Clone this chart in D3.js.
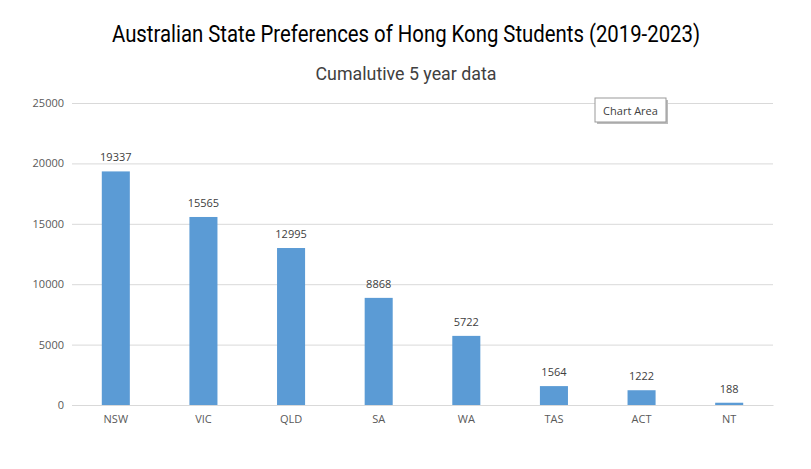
<!DOCTYPE html>
<html>
<head>
<meta charset="utf-8">
<script src="https://cdn.jsdelivr.net/npm/d3@7"></script>
<style>
  body { margin: 0; background: #fff; }
  svg { display: block; }
</style>
</head>
<body>
<div id="chart"></div>
<script>
(function() {
    const width = 811;
    const height = 469;
    const margin = { top: 103, right: 38, bottom: 64, left: 72 };

    // data
    const states = ["NSW", "VIC", "QLD", "SA", "WA", "TAS", "ACT", "NT"];
    const students = [19337, 15565, 12995, 8868, 5722, 1564, 1222, 188];
    const yTicks = [0, 5000, 10000, 15000, 20000, 25000];

    const titleText = "Australian State Preferences of Hong Kong Students (2019-2023)";
    const subtitleText = "Cumalutive 5 year data";

    const labelFont = "'Open Sans', 'Liberation Sans', sans-serif";
    const titleFont = "Roboto, 'Liberation Sans', sans-serif";

    const svg = d3.select("#chart").append("svg")
        .attr("width", width).attr("height", height);

    const innerW = width - margin.left - margin.right;
    const innerH = height - margin.top - margin.bottom;

    const x = d3.scaleBand().domain(states).range([0, innerW]).paddingInner(0.68).paddingOuter(0.34);
    const y = d3.scaleLinear().domain([0, 25000]).range([innerH, 0]);

    const g = svg.append("g").attr("transform", `translate(${margin.left},${margin.top})`);

    // Titres
    svg.append("text")
        .attr("x", 406).attr("y", 42)
        .attr("text-anchor", "middle")
        .attr("font-family", titleFont).attr("font-size", 23.5)
        .attr("fill", "#000")
        .attr("textLength", 588).attr("lengthAdjust", "spacingAndGlyphs")
        .text(titleText);

    svg.append("text")
        .attr("x", 406).attr("y", 80)
        .attr("text-anchor", "middle")
        .attr("font-family", titleFont).attr("font-size", 19)
        .attr("fill", "#404040")
        .attr("textLength", 181).attr("lengthAdjust", "spacingAndGlyphs")
        .text(subtitleText);

    // Grille
    const yAxis = g.append("g")
        .call(d3.axisLeft(y).tickValues(yTicks).tickSize(-innerW).tickPadding(8).tickFormat(d3.format("d")));
    yAxis.select(".domain").remove();
    yAxis.selectAll(".tick line").attr("stroke", "#d9d9d9");
    yAxis.selectAll(".tick text")
        .attr("fill", "#595959").attr("font-family", labelFont).attr("font-size", 11);

    const xAxis = g.append("g")
        .attr("transform", `translate(0,${innerH})`)
        .call(d3.axisBottom(x).tickSize(0).tickPadding(10));
    xAxis.select(".domain").attr("stroke", "#d9d9d9");
    xAxis.selectAll(".tick text")
        .attr("fill", "#595959").attr("font-family", labelFont).attr("font-size", 11);

    // Barres
    g.selectAll(".bar")
        .data(states.map((s, i) => ({ state: s, val: students[i] })))
        .join("rect")
        .attr("class", "bar")
        .attr("x", d => x(d.state))
        .attr("y", d => y(d.val))
        .attr("width", x.bandwidth())
        .attr("height", d => innerH - y(d.val))
        .attr("fill", "#5b9bd5");

    g.selectAll(".lbl")
        .data(states.map((s, i) => ({ state: s, val: students[i] })))
        .join("text")
        .attr("class", "lbl")
        .attr("x", d => x(d.state) + x.bandwidth() / 2)
        .attr("y", d => y(d.val) - 10)
        .attr("text-anchor", "middle")
        .attr("fill", "#404040").attr("font-family", labelFont).attr("font-size", 11)
        .text(d => d.val);

    // "Chart Area" tooltip
    const tip = svg.append("g").attr("transform", "translate(595,98)");
    tip.append("rect").attr("x", 2).attr("y", 2).attr("width", 71).attr("height", 24).attr("fill", "#bbb");
    tip.append("rect").attr("width", 71).attr("height", 24).attr("fill", "#fff").attr("stroke", "#999");
    tip.append("text").attr("x", 35.5).attr("y", 16.5).attr("text-anchor", "middle")
        .attr("fill", "#404040").attr("font-family", labelFont).attr("font-size", 11)
        .text("Chart Area");
})();
</script>
</body>
</html>
